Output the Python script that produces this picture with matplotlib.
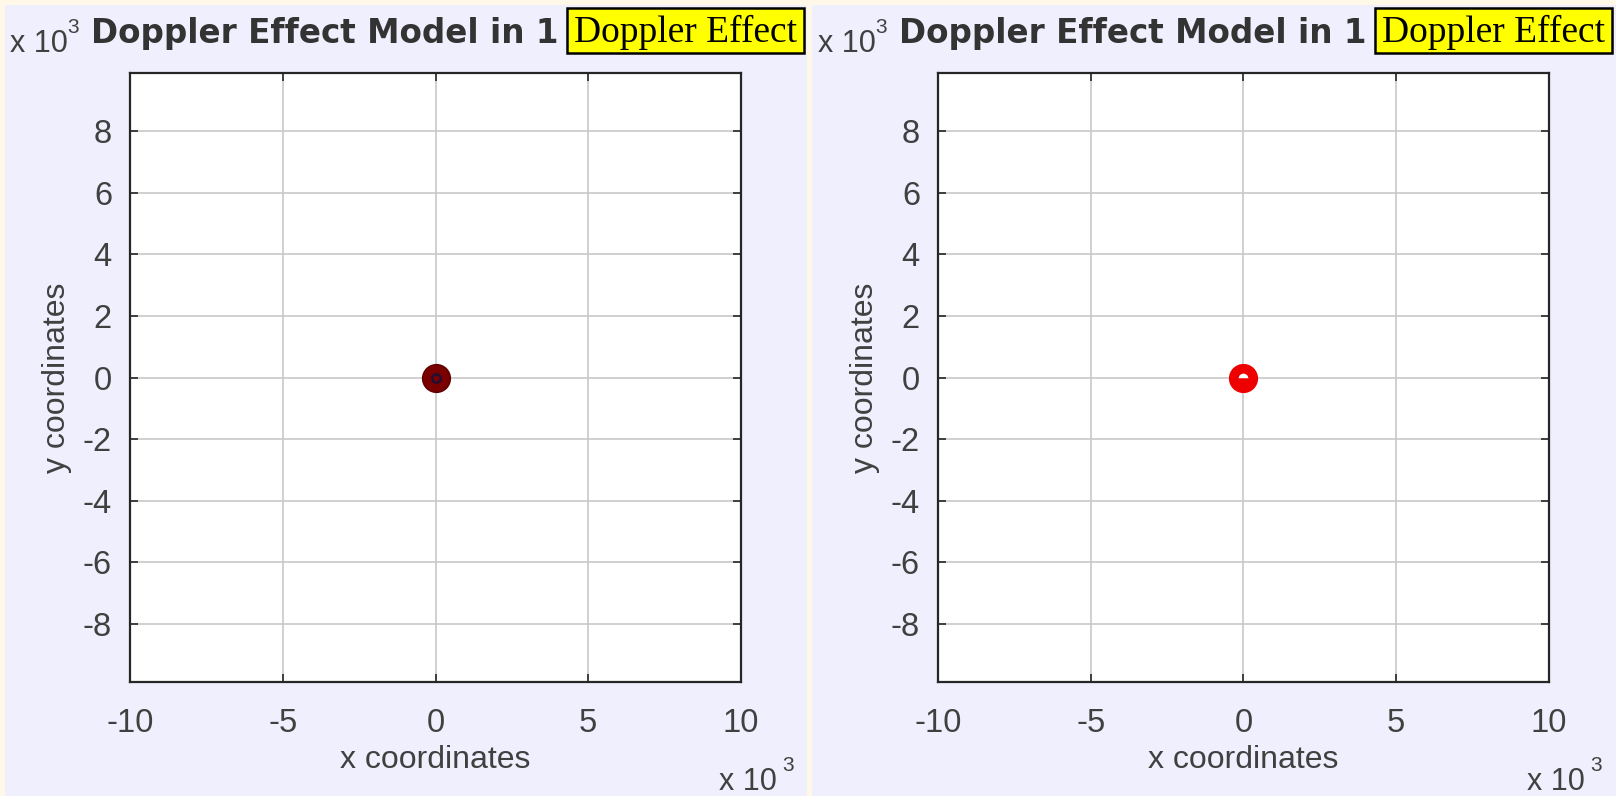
import matplotlib
matplotlib.use("Agg")
import matplotlib.pyplot as plt
from matplotlib import font_manager
from matplotlib.patches import Rectangle


def pick(fams):
    for f in fams:
        try:
            font_manager.findfont(font_manager.FontProperties(family=f),
                                  fallback_to_default=False)
            return f
        except Exception:
            pass
    return 'DejaVu Sans'


SANS = pick(['Liberation Sans', 'Arial'])
SERIF = pick(['Liberation Serif', 'DejaVu Serif'])
BOLD = 'DejaVu Sans'

# ---------------- data ----------------
panel_names = ['observer', 'source']
source_x = [0.0]          # metres
source_y = [0.0]          # metres
x_ticks = [-10000, -5000, 0, 5000, 10000]
x_tick_labels = ['-10', '-5', '0', '5', '10']
y_ticks = [-8000, -6000, -4000, -2000, 0, 2000, 4000, 6000, 8000]
y_tick_labels = ['-8', '-6', '-4', '-2', '0', '2', '4', '6', '8']
x_limits = [-10000, 10000]
y_limits = [-9900, 9900]
title_text = 'Doppler Effect Model in 1'
box_text = 'Doppler Effect'
x_label = 'x coordinates'
y_label = 'y coordinates'
marker_face = ['#7a0000', '#ee0000']

# ---------------- styling ----------------
W, H = 1616, 796
CREAM = '#fff8e8'
LAV = '#efeffd'
TXT = '#404040'

fig = plt.figure(figsize=(W / 100, H / 100), dpi=100, facecolor=CREAM)


def fx(px):
    return px / W


def fy(py):
    return 1 - py / H


panel_left = [5, 812]
panel_right = [807, 1616]

for i, name in enumerate(panel_names):
    off = 808 * i
    # lavender panel background
    fig.patches.append(Rectangle((fx(panel_left[i]), 0),
                                 fx(panel_right[i] - panel_left[i]), fy(5),
                                 transform=fig.transFigure, facecolor=LAV,
                                 edgecolor='none', zorder=-5))
    ax = fig.add_axes([fx(130 + off), fy(682), fx(611), 609 / H])
    ax.set_zorder(1)
    ax.set_facecolor('white')
    ax.set_xlim(x_limits)
    ax.set_ylim(y_limits)
    ax.set_xticks(x_ticks)
    ax.set_xticklabels(x_tick_labels, fontsize=23.5, family=SANS, color=TXT)
    ax.set_yticks(y_ticks)
    ax.set_yticklabels(y_tick_labels, fontsize=23.5, family=SANS, color=TXT)
    ax.tick_params(direction='in', length=6, width=1.2, color='#262626',
                   top=True, right=True)
    ax.tick_params(axis='x', pad=19)
    ax.tick_params(axis='y', pad=13)
    ax.grid(True, color='#c8c8c8', linewidth=1.2)
    ax.set_axisbelow(True)
    for sp in ax.spines.values():
        sp.set_color('#262626')
        sp.set_linewidth(1.6)
    ax.set_xlabel(x_label, fontsize=23, family=SANS, color=TXT, labelpad=4)
    ax.set_ylabel(y_label, fontsize=23, family=SANS, color=TXT, labelpad=8)

    # source marker
    if i == 0:
        ax.plot(source_x, source_y, 'o', ms=20, mfc=marker_face[i],
                mec='#5a0000', mew=1, zorder=5)
        ax.plot(source_x, source_y, 'o', ms=6, mfc='none', mec='#1a1038',
                mew=1.6, zorder=6)
    else:
        ax.plot(source_x, source_y, 'o', ms=20, mfc=marker_face[i],
                mec=marker_face[i], mew=1, zorder=5)
        ax.plot(source_x, source_y, 'o', ms=7, fillstyle='top', mfc='white',
                mfcalt=marker_face[i], mew=0, zorder=6)

    # exponent labels (top-left and bottom-right)
    fig.text(fx(10 + off), fy(52), 'x 10', fontsize=22, family=SANS,
             color=TXT, ha='left', va='baseline', zorder=2)
    fig.text(fx(67 + off), fy(33), '3', fontsize=15, family=SANS,
             color=TXT, ha='left', va='baseline', zorder=2)
    fig.text(fx(719 + off), fy(790), 'x 10', fontsize=22, family=SANS,
             color=TXT, ha='left', va='baseline', zorder=2)
    fig.text(fx(782 + off), fy(771), '3', fontsize=15, family=SANS,
             color=TXT, ha='left', va='baseline', zorder=2)

    # title
    fig.text(fx(91 + off), fy(34), title_text, fontsize=23.5, family=BOLD,
             weight='bold', color='#333333', ha='left', va='center', zorder=2)

    # yellow label box
    fig.patches.append(Rectangle((fx(567 + off), fy(53)), fx(237), 45 / H,
                                 transform=fig.transFigure,
                                 facecolor='#ffff00', edgecolor='black',
                                 linewidth=1.8, zorder=3))
    fig.text(fx(686 + off), fy(32), box_text, fontsize=27, family=SERIF,
             color='black', ha='center', va='center', zorder=4)

fig.savefig('out.png', dpi=100, facecolor=CREAM)
